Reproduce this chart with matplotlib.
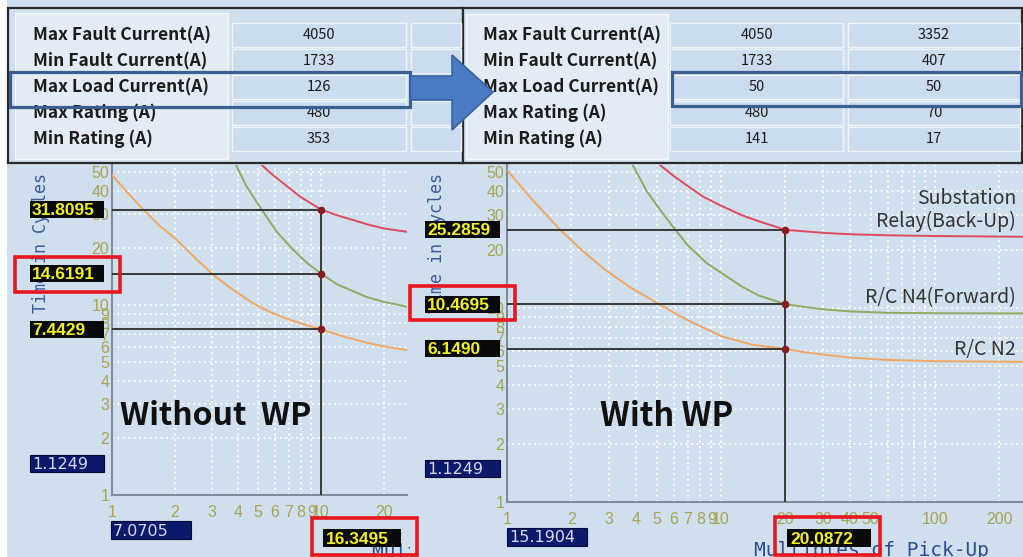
import matplotlib
matplotlib.use("Agg")
import matplotlib.pyplot as plt
from matplotlib.patches import Rectangle, Polygon
from matplotlib.transforms import Bbox

W, H = 1023, 557

# ---- table data ----
row_labels = ["Max Fault Current(A)", "Min Fault Current(A)", "Max Load Current(A)",
              "Max Rating (A)", "Min Rating (A)"]
before_vals = ["4050", "1733", "126", "480", "353"]
after_vals_a = ["4050", "1733", "50", "480", "141"]
after_vals_b = ["3352", "407", "50", "70", "17"]

# ---- curves, without WP (multiples of pick-up, cycles) ----
wo_relay_x = [5.1, 5.8, 6.6, 7.94, 10, 12, 13.8, 16.6, 19.9, 25.7]
wo_relay_y = [55.7, 49.0, 43.7, 37.2, 31.8095, 29.6, 28.3, 26.6, 25.3, 24.3]
wo_n4_x = [3.88, 4.41, 5.2, 6.14, 7.37, 8.6, 10, 12, 13.8, 16.6, 19.9, 25.7]
wo_n4_y = [55.7, 42.0, 31.8, 24.3, 19.5, 16.6, 14.6191, 12.8, 12.0, 11.0, 10.4, 9.8]
wo_n2_x = [1.0, 1.2, 1.41, 1.7, 2.04, 2.5, 3.05, 3.8, 4.74, 5.8, 7.11, 8.5, 10, 13, 16.6, 20, 25.7]
wo_n2_y = [48.3, 38.5, 31.8, 26.0, 22.0, 17.7, 14.4, 12.0, 10.2, 9.1, 8.34, 7.85, 7.4429,
           6.8, 6.33, 6.05, 5.8]

# ---- curves, with WP ----
w_relay_x = [5.19, 6, 7, 8.24, 10, 12.5, 15, 20, 25, 30, 40, 60, 100, 257]
w_relay_y = [54.6, 48.0, 42.5, 37.5, 33.7, 30.1, 28.0, 25.2859, 24.8, 24.4, 24.0, 23.7, 23.5, 23.3]
w_n4_x = [3.87, 4.5, 5.2, 6.14, 7, 8.59, 10, 12.5, 15, 20, 25, 30, 40, 60, 100, 257]
w_n4_y = [54.6, 40.0, 32.0, 25.2, 21.0, 17.0, 15.2, 12.9, 11.6, 10.4695, 10.1, 9.85, 9.6,
          9.45, 9.4, 9.38]
w_n2_x = [1.0, 1.3, 1.74, 2.2, 2.88, 3.8, 5.19, 7, 10.2, 14, 20, 25, 30, 40, 60, 100, 257]
w_n2_y = [51.4, 36.6, 25.8, 20.2, 15.7, 12.7, 10.4, 8.63, 7.11, 6.47, 6.149, 5.9, 5.75, 5.55,
          5.4, 5.32, 5.28]

wo_cross_x, w_cross_x = 10, 20
wo_cross_labels = ["31.8095", "14.6191", "7.4429"]
w_cross_labels = ["25.2859", "10.4695", "6.1490"]

y_grid = [1, 2, 3, 4, 5, 6, 7, 8, 9, 10, 20, 30, 40, 50]
wo_x_grid = [1, 2, 3, 4, 5, 6, 7, 8, 9, 10, 20]
w_x_grid = [1, 2, 3, 4, 5, 6, 7, 8, 9, 10, 20, 30, 40, 50, 60, 70, 80, 90, 100, 200]
w_x_labeled = [1, 2, 3, 4, 5, 6, 7, 8, 9, 10, 20, 30, 40, 50, 100, 200]

BG = "#cfdfed"
CELL = "#cadcee"
LABEL_BG = "#e3ebf4"
TICK = "#a8a452"
C_RELAY, C_N4, C_N2 = "#e14a5e", "#8fab62", "#f2a862"

fig = plt.figure(figsize=(W / 100, H / 100), dpi=100)
fig.patch.set_facecolor("white")


def px_box(x0, y0, x1, y1, **kw):
    r = Rectangle((x0 / W, 1 - y1 / H), (x1 - x0) / W, (y1 - y0) / H,
                  transform=fig.transFigure, **kw)
    fig.add_artist(r)
    return r


def px_text(x, y, s, **kw):
    return fig.text(x / W, 1 - y / H, s, **kw)


px_box(7, 0, W, H, fc=BG, ec="none", zorder=-5)


def make_axes(x0, x1, top, bottom, xdec, ydec, xgrid, xlab):
    ax = fig.add_axes([x0 / W, 1 - bottom / H, (x1 - x0) / W, (bottom - top) / H])
    ax.set_xscale("log")
    ax.set_yscale("log")
    ax.set_xlim(1, 10 ** ((x1 - x0) / xdec))
    ax.set_ylim(1, 10 ** ((bottom - top) / ydec))
    ax.set_xticks(xgrid, [str(v) if v in xlab else "" for v in xgrid])
    ax.set_yticks(y_grid, [str(v) for v in y_grid])
    ax.minorticks_off()
    ax.tick_params(length=0, colors=TICK, labelsize=11.5)
    ax.tick_params(axis="x", pad=7)
    ax.tick_params(axis="y", pad=2)
    for lab in ax.get_xticklabels() + ax.get_yticklabels():
        lab.set_family(["Liberation Sans Narrow", "Liberation Sans", "DejaVu Sans"])
    ax.set_facecolor(BG)
    for s in ["top", "right"]:
        ax.spines[s].set_visible(False)
    for s in ["left", "bottom"]:
        ax.spines[s].set_color("#7f8c99")
        ax.spines[s].set_linewidth(1.5)
    ax.grid(True, color="white", ls=(0, (1, 2)), lw=1.3)
    ax.set_axisbelow(True)
    return ax


ax1 = make_axes(112, 407, 165, 495, 209, 190, wo_x_grid, wo_x_grid)
ax2 = make_axes(507, 1023, 165, 502, 214, 194, w_x_grid, w_x_labeled)


def draw_tcc(ax, curves, cx, labels, box_x0, box_x1):
    for xs, ys, c in curves:
        ax.plot(xs, ys, color=c, lw=1.4, zorder=3)
    ys_cross = [float(l) for l in labels]
    ax.vlines(cx, 1, ys_cross[0], color="#2b2b2b", lw=1.3, zorder=4)
    ax.hlines(ys_cross, 1, cx, color="#2b2b2b", lw=1.3, zorder=4)
    ax.plot([cx] * 3, ys_cross, "o", color="#8a1c22", ms=4.5, zorder=5)
    for y, s in zip(ys_cross, labels):
        yd = H - ax.transData.transform((1, y))[1]
        px_box(box_x0, yd - 8.5, box_x1, yd + 8.5, fc="#0a0a0a", ec="none", zorder=4)
        px_text(box_x0 + 2, yd + 1, s, color="#f0f01e", fontsize=12.5, fontweight="bold",
                family=["Liberation Sans", "DejaVu Sans"], ha="left", va="center", zorder=4.5)


draw_tcc(ax1, [(wo_relay_x, wo_relay_y, C_RELAY), (wo_n4_x, wo_n4_y, C_N4),
               (wo_n2_x, wo_n2_y, C_N2)], wo_cross_x, wo_cross_labels, 30, 104)
draw_tcc(ax2, [(w_relay_x, w_relay_y, C_RELAY), (w_n4_x, w_n4_y, C_N4),
               (w_n2_x, w_n2_y, C_N2)], w_cross_x, w_cross_labels, 425, 500)

# axis titles (partly hidden in the screenshot)
for x in (41, 437):
    px_text(x, 243, "Time in Cycles", rotation=90, ha="center", va="center",
            color="#3d5a9e", fontsize=12, family="DejaVu Sans Mono", zorder=-1)
px_text(754, 550, "Multiples of Pick-Up", ha="left", va="center", color="#2f4d8f",
        fontsize=14, family="DejaVu Sans Mono", zorder=-1)
t = px_text(372, 552, "Multiples of Pick-Up", ha="left", va="center", color="#2f4d8f",
            fontsize=14, family="DejaVu Sans Mono", zorder=-1)
t.set_clip_box(Bbox.from_extents(0, 0, 410, H))
t.set_clip_on(True)


# x value boxes under the axes, starting at the crossing line
def x_box(ax, cx, s, width):
    xd = ax.transData.transform((cx, 1))[0]
    px_box(xd + 2, 529, xd + 2 + width, 547, fc="#0a0a0a", ec="none", zorder=4)
    px_text(xd + 5, 539, s, color="#f0f01e", fontsize=12.5, fontweight="bold",
            family=["Liberation Sans", "DejaVu Sans"], ha="left", va="center", zorder=4.5)


x_box(ax1, wo_cross_x, "16.3495", 78)
x_box(ax2, w_cross_x, "20.0872", 84)

# navy info boxes
for (x0, y0, x1, y1, s) in [(30, 455, 104, 472, "1.1249"), (111, 521, 191, 539, "7.0705"),
                            (425, 460, 500, 477, "1.1249"), (507, 528, 587, 546, "15.1904")]:
    px_box(x0, y0, x1, y1, fc="#0d1a6c", ec="#05093a", lw=0.8, zorder=4)
    px_text(x0 + 2, (y0 + y1) / 2 + 1, s, color="#d6d8ee", fontsize=11.5,
            family=["Liberation Sans Narrow", "DejaVu Sans"], ha="left", va="center", zorder=4.5)

# red highlight frames
for (x0, y0, x1, y1) in [(15, 257, 120, 292), (312, 518, 417, 555),
                         (410, 286, 515, 320), (775, 517, 880, 555)]:
    px_box(x0, y0, x1, y1, fc="none", ec="#e8161e", lw=2.6, zorder=6)

# big titles and curve names
px_text(120, 416, "Without  WP", fontsize=23, fontweight="bold", color="#111111",
        family=["Noto Sans CJK KR", "DejaVu Sans"], ha="left", va="center", zorder=5)
px_text(600, 416, "With WP", fontsize=23.5, fontweight="bold", color="#111111",
        family=["Noto Sans CJK KR", "DejaVu Sans"], ha="left", va="center", zorder=5)
for y, s in [(198, "Substation"), (221, "Relay(Back-Up)"), (298, "R/C N4(Forward)"),
             (349, "R/C N2")]:
    px_text(1016, y, s, fontsize=14, color="#333333",
            family=["Noto Sans CJK KR", "DejaVu Sans"], ha="right", va="center", zorder=5)

# ---- tables ----
row_y = [35, 61, 87, 113, 139]
lab_font = dict(fontsize=12.5, fontweight="bold", color="#1c1c1c",
                family=["Noto Sans CJK KR", "DejaVu Sans"], ha="left", va="center", zorder=11)
val_font = dict(fontsize=10.5, color="#1c1c1c", family=["Noto Sans CJK KR", "DejaVu Sans"],
                ha="center", va="center", zorder=11)

# before
px_box(8, 8, 463, 163, fc=BG, ec="#2a2a2a", lw=1.6, zorder=10)
px_box(15, 13, 228, 159, fc=LABEL_BG, ec="#f3f6fa", lw=1, zorder=10.2)
for y, lab, v in zip(row_y, row_labels, before_vals):
    px_box(232, y - 12, 406, y + 12, fc=CELL, ec="#eef3f8", lw=1, zorder=10.2)
    px_box(411, y - 12, 461, y + 12, fc=CELL, ec="#eef3f8", lw=1, zorder=10.2)
    px_text(33, y, lab, **lab_font)
    px_text(319, y, v, **val_font)

# after
px_box(463, 8, 1022, 163, fc=BG, ec="#2a2a2a", lw=1.6, zorder=10)
px_box(466, 14, 668, 159, fc=LABEL_BG, ec="#f3f6fa", lw=1, zorder=10.2)
for y, lab, va, vb in zip(row_y, row_labels, after_vals_a, after_vals_b):
    px_box(670, y - 12, 843, y + 12, fc=CELL, ec="#eef3f8", lw=1, zorder=10.2)
    px_box(848, y - 12, 1020, y + 12, fc=CELL, ec="#eef3f8", lw=1, zorder=10.2)
    px_text(483, y, lab, **lab_font)
    px_text(757, y, va, **val_font)
    px_text(934, y, vb, **val_font)

# highlighted load-current rows and the arrow between them
px_box(10, 72, 410, 107, fc="none", ec="#3b5f8e", lw=2.3, zorder=12)
px_box(672, 72, 1021, 106, fc="none", ec="#3b5f8e", lw=2.3, zorder=12)
arrow = [(410, 76), (452, 76), (452, 55), (493, 92), (452, 130), (452, 100), (410, 100)]
fig.add_artist(Polygon([(x / W, 1 - y / H) for x, y in arrow], closed=True,
                       transform=fig.transFigure, fc="#4a7bc2", ec="#3862a0", lw=1.2, zorder=13))

fig.savefig("out.png", dpi=100)
